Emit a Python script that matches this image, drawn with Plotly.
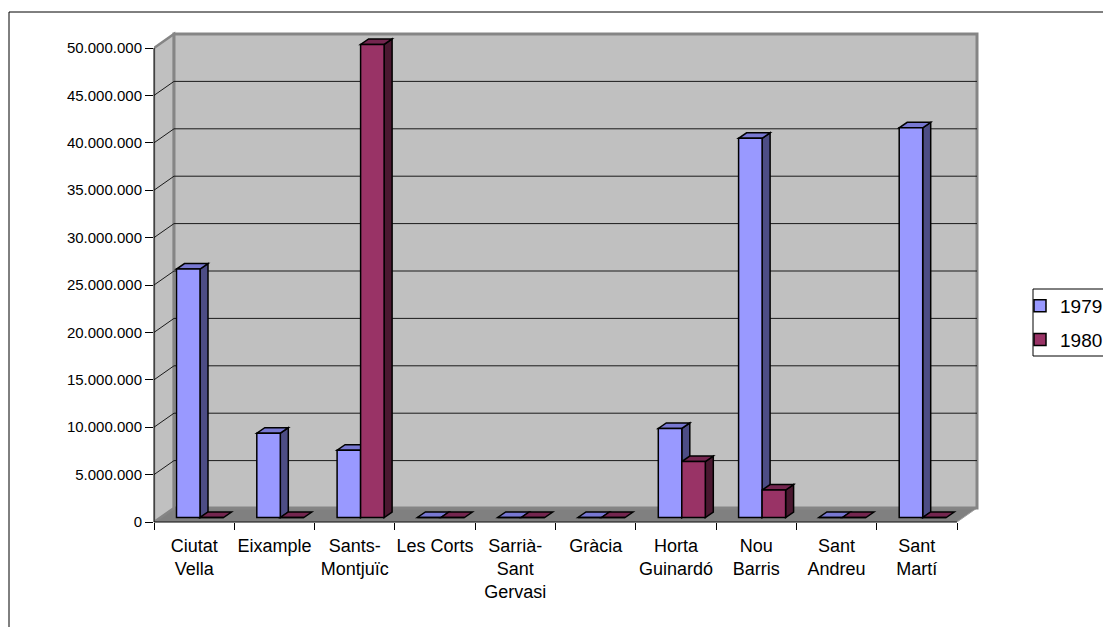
import plotly.graph_objects as go

# ---------------- data ----------------
categories = ["Ciutat<br>Vella", "Eixample", "Sants-<br>Montjuïc", "Les Corts",
              "Sarrià-<br>Sant<br>Gervasi", "Gràcia", "Horta<br>Guinardó",
              "Nou<br>Barris", "Sant<br>Andreu", "Sant<br>Martí"]
series_names = ["1979", "1980"]
values_1979 = [26_200_000, 8_900_000, 7_100_000, 0, 0, 0, 9_400_000, 40_000_000, 0, 41_100_000]
values_1980 = [0, 0, 49_900_000, 0, 0, 0, 5_900_000, 2_900_000, 0, 0]
y_tick_values = [0, 5_000_000, 10_000_000, 15_000_000, 20_000_000, 25_000_000,
                 30_000_000, 35_000_000, 40_000_000, 45_000_000, 50_000_000]

# ---------------- style / geometry constants ----------------
OFS = 8                                  # browser body margin
W, H = 1111 - OFS, 627 - OFS
PLOT_L, PLOT_R, PLOT_T, PLOT_B = 154 - OFS, 980 - OFS, 31 - OFS, 522 - OFS
PW, PH = PLOT_R - PLOT_L, PLOT_B - PLOT_T
CAT_PX = 80.3                 # pixels per category on the front plane
Y_MAX = y_tick_values[-1]
PX_PER_VAL = 474 / Y_MAX      # pixels per value unit

def px2x(p):
    return p / CAT_PX

def px2y(p):
    return p / PX_PER_VAL

def paper_x(page_px):
    return (page_px - OFS - PLOT_L) / PW

def paper_y(page_px):
    return (PLOT_B - (page_px - OFS)) / PH

n = len(categories)
X_LEFT = -0.5
X_RIGHT = n - 0.5
WALL_DX, WALL_DY = px2x(20), px2y(14)
BAR_DX, BAR_DY = px2x(8), px2y(5.5)
BAR_W = px2x(23.5)
BAR_BASE = px2y(4.5)
OFF_A = px2x(22.5 - CAT_PX / 2)
OFF_B = OFF_A + BAR_W

FONT = "Liberation Sans, Arial, sans-serif"
COL_A = dict(front="#9999FF", side="#4D4D85", top="#7878D2")
COL_B = dict(front="#993366", side="#4A1830", top="#74264F")
WALL = "#C0C0C0"
FLOOR = "#808080"
WALL_EDGE = "#858585"

shapes = []

def poly(pts, fill, line_color=None, lw=0, xref="x", yref="y", layer="below"):
    path = "M " + " L ".join(f"{x},{y}" for x, y in pts) + " Z"
    return dict(type="path", path=path, xref=xref, yref=yref, fillcolor=fill,
                line=dict(color=line_color or fill, width=lw), layer=layer)

# floor
shapes.append(poly([(X_LEFT, 0), (X_RIGHT, 0), (X_RIGHT + WALL_DX, WALL_DY),
                    (X_LEFT + WALL_DX, WALL_DY)], FLOOR, "#A0A0A0", 1))
# side wall
shapes.append(poly([(X_LEFT, 0), (X_LEFT, Y_MAX), (X_LEFT + WALL_DX, Y_MAX + WALL_DY),
                    (X_LEFT + WALL_DX, WALL_DY)], WALL, WALL_EDGE, 2.5))
# back wall
shapes.append(dict(type="rect", xref="x", yref="y", x0=X_LEFT + WALL_DX, y0=WALL_DY,
                   x1=X_RIGHT + WALL_DX, y1=Y_MAX + WALL_DY, fillcolor=WALL,
                   line=dict(color=WALL_EDGE, width=3), layer="below"))
# gridlines
for v in y_tick_values[1:-1]:
    shapes.append(dict(type="line", xref="x", yref="y", x0=X_LEFT + WALL_DX, y0=v + WALL_DY,
                       x1=X_RIGHT + WALL_DX, y1=v + WALL_DY,
                       line=dict(color="#1a1a1a", width=1), layer="below"))
    shapes.append(dict(type="line", xref="x", yref="y", x0=X_LEFT, y0=v,
                       x1=X_LEFT + WALL_DX, y1=v + WALL_DY,
                       line=dict(color="#1a1a1a", width=1), layer="below"))

# 3D side / top faces of the columns, computed from the data
def faces(values, off, col, xref):
    for i, v in enumerate(values):
        xl = i + off
        xr = xl + BAR_W
        top = BAR_BASE + v
        if v > 0:
            shapes.append(poly([(xr, BAR_BASE), (xr, top), (xr + BAR_DX, top + BAR_DY),
                                (xr + BAR_DX, BAR_BASE + BAR_DY)], col["side"], "black", 1.5,
                               xref=xref))
        shapes.append(poly([(xl, top), (xr, top), (xr + BAR_DX, top + BAR_DY),
                            (xl + BAR_DX, top + BAR_DY)], col["top"], "black", 1.5, xref=xref))

faces(values_1979, OFF_A, COL_A, "x")
faces(values_1980, OFF_B, COL_B, "x2")

# front axis lines (paper coords)
shapes.append(dict(type="line", xref="paper", yref="paper", x0=0, x1=0, y0=0,
                   y1=474 / PH, line=dict(color="black", width=1)))
shapes.append(dict(type="line", xref="paper", yref="paper", x0=0, x1=n * CAT_PX / PW,
                   y0=0, y1=0, line=dict(color="black", width=1)))
# chart area border
shapes.append(dict(type="rect", xref="paper", yref="paper",
                   x0=paper_x(9), x1=paper_x(1140), y0=paper_y(660), y1=paper_y(12),
                   line=dict(color="black", width=1), fillcolor="rgba(0,0,0,0)"))
# legend frame (runs past the right edge, as in the reference)
shapes.append(dict(type="rect", xref="paper", yref="paper", layer="below",
                   x0=paper_x(1033), x1=paper_x(1125), y0=paper_y(356), y1=paper_y(289),
                   line=dict(color="black", width=1), fillcolor="white"))

x_range = [X_LEFT, X_LEFT + PW / CAT_PX]

fig = go.Figure()
fig.add_trace(go.Bar(x=list(range(n)), y=values_1979, base=BAR_BASE, offset=OFF_A,
                     width=BAR_W, name=series_names[0], legendgroup="a",
                     marker=dict(color=COL_A["front"], line=dict(color="black", width=1.5)),
                     xaxis="x", yaxis="y"))
fig.add_trace(go.Bar(x=list(range(n)), y=values_1980, base=BAR_BASE, offset=OFF_B,
                     width=BAR_W, name=series_names[1], legendgroup="b",
                     marker=dict(color=COL_B["front"], line=dict(color="black", width=1.5)),
                     xaxis="x2", yaxis="y"))

fig.update_layout(
    width=W, height=H,
    margin=dict(l=PLOT_L, r=W - PLOT_R, t=PLOT_T, b=H - PLOT_B, pad=0, autoexpand=False),
    paper_bgcolor="white", plot_bgcolor="rgba(0,0,0,0)",
    barmode="overlay",
    separators=",.",
    font=dict(family=FONT, color="black"),
    hovermode=False,
    shapes=shapes,
    xaxis=dict(range=x_range, tickmode="array", tickvals=[i - 0.5 for i in range(n + 1)],
               ticks="outside", ticklen=7, tickcolor="black", tickwidth=1,
               showticklabels=False, showgrid=False, zeroline=False, showline=False,
               fixedrange=True, automargin=False),
    xaxis2=dict(range=x_range, overlaying="x", side="bottom", tickmode="array",
                tickvals=list(range(n)), ticktext=categories,
                ticks="outside", ticklen=7, tickcolor="rgba(0,0,0,0)",
                tickfont=dict(size=18, family=FONT), showgrid=False, zeroline=False,
                showline=False, fixedrange=True, automargin=False),
    yaxis=dict(range=[0, PH / PX_PER_VAL], tickmode="array", tickvals=y_tick_values,
               tickformat=",d", ticks="outside", ticklen=8, tickcolor="black", tickwidth=1,
               tickfont=dict(size=15, family=FONT), showgrid=False, zeroline=False,
               showline=False, fixedrange=True, automargin=False),
    legend=dict(x=paper_x(1020), y=paper_y(287), xanchor="left", yanchor="top",
                bordercolor="rgba(0,0,0,0)", borderwidth=0, bgcolor="rgba(0,0,0,0)",
                font=dict(size=19, family=FONT), traceorder="grouped", tracegroupgap=6,
                itemclick=False, itemdoubleclick=False),
)

fig.write_html("out.html")
